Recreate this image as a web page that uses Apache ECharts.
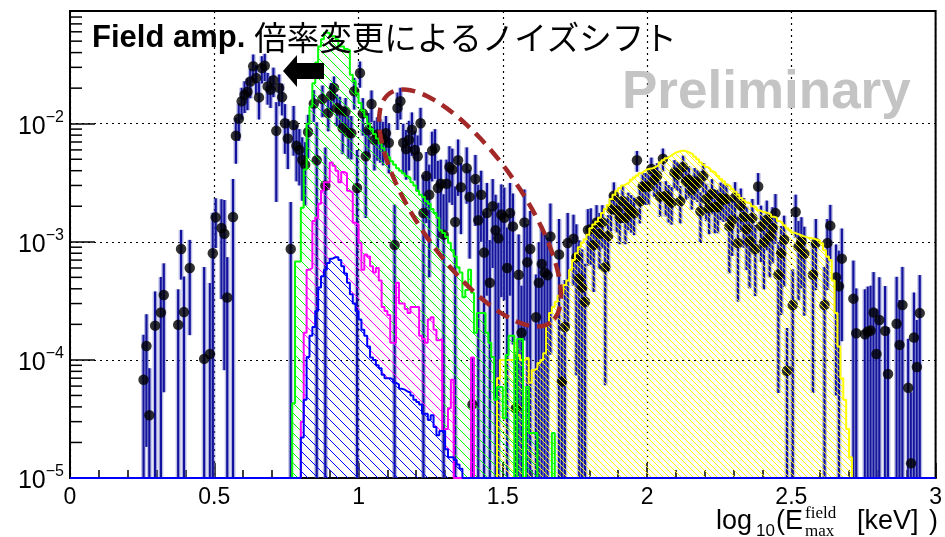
<!DOCTYPE html>
<html><head><meta charset="utf-8">
<script src="https://cdn.jsdelivr.net/npm/echarts@6/dist/echarts.min.js"></script>
<style>html,body{margin:0;padding:0;background:#fff}#c{width:945px;height:537px}</style>
</head><body><div id="c"></div>
<script>
// ---------- axis setup ----------
const X_MIN = 0, X_MAX = 3;
const YMIN = 1e-5, YMAX = 0.09;
const BIN = 0.01;
const xTickLabels = ['0', '0.5', '1', '1.5', '2', '2.5', '3'];

// ---------- histograms (bin width 0.01, first bin low edge given) ----------
const greenStart = 0.77;
const greenVals = [4.3e-5, 6.8e-4, 6.8e-4, 1.94e-3, 4.1e-3, 1.0e-2, 1.4e-2, 2.2e-2, 3.3e-2, 4.5e-2, 5.2e-2, 5.9e-2, 5.9e-2, 5.5e-2, 5.5e-2, 5.2e-2, 4.5e-2, 4.5e-2, 4.3e-2, 4.2e-2, 2.6e-2, 2.3e-2, 1.8e-2,
  1.5e-2, 1.3e-2, 1.15e-2, 1.0e-2, 9.0e-3, 8.2e-3, 7.5e-3, 6.8e-3, 6.2e-3, 5.6e-3,
  5.2e-3, 4.8e-3, 4.5e-3, 4.2e-3, 4.0e-3, 3.8e-3, 3.6e-3,
  3.5e-3, 3.2e-3, 3.0e-3, 2.7e-3, 2.5e-3, 2.4e-3, 2.2e-3, 2.1e-3, 1.9e-3, 1.75e-3, 1.6e-3, 1.25e-3, 1.19e-3, 1.1e-3, 9.8e-4, 8.5e-4,
  7.5e-4, 6.1e-4, 5.5e-4, 3.4e-4, 3.9e-4, 5.8e-4, 3.7e-4, 1.7e-4, 2.5e-4, 2.5e-4, 2.5e-4, 1.7e-4, 1.4e-4, 1.06e-4, 4.6e-5, 5.9e-5, 5.9e-5, 3.2e-5, 1.1e-4, 1.6e-4, 1.6e-4, 0, 1.5e-4, 1.5e-4, 0, 5.9e-5, 2.4e-5, 2.4e-5, 2.4e-5, 0, 0, 0, 0, 0, 2.4e-5];

const magentaStart = 0.80;
const magentaVals = [3e-5, 1.7e-4, 5.8e-4, 6.0e-4, 1.5e-3, 1.6e-3, 2.1e-3, 2.7e-3, 3.2e-3, 3.2e-3,
  4.7e-3, 4.4e-3, 4.0e-3, 3.2e-3, 3.9e-3, 3.8e-3, 2.7e-3, 2.6e-3, 1.45e-3, 1.4e-3,
  9.8e-4, 5.8e-4, 7.8e-4, 7.5e-4, 6.2e-4, 5.5e-4, 6.0e-4, 4.7e-4, 2.8e-4, 2.6e-4,
  2.4e-4, 1.4e-4, 1.4e-4, 4.5e-4, 3.0e-4, 3.0e-4, 2.7e-4, 2.5e-4, 2.8e-4, 2.8e-4,
  2.8e-4, 1.6e-4, 1.5e-4, 1.4e-4, 2.2e-4, 2.3e-4, 1.8e-4, 1.47e-4, 1.5e-4, 2.5e-5,
  2.6e-5, 3.9e-5, 6.8e-5, 0, 0, 0, 0, 0, 0, 1.05e-4];

const blueStart = 0.80;
const blueVals = [2.2e-5, 4.6e-5, 1.06e-4, 1.6e-4, 1.9e-4, 2.6e-4, 4.1e-4, 5.1e-4, 5.8e-4, 6.6e-4,
  7.2e-4, 7.4e-4, 7.4e-4, 7.0e-4, 6.2e-4, 5.4e-4, 4.5e-4, 3.6e-4, 3.0e-4, 2.6e-4,
  2.2e-4, 1.8e-4, 1.6e-4, 1.3e-4, 1.05e-4, 1.0e-4, 9.0e-5, 8.5e-5, 7.5e-5, 7.0e-5,
  7.0e-5, 6.8e-5, 6.4e-5, 6.2e-5, 5.7e-5, 5.6e-5, 5.4e-5, 5.3e-5, 5.0e-5, 4.6e-5,
  4.4e-5, 4.2e-5, 3.5e-5, 3.5e-5, 3.1e-5, 3.4e-5, 2.7e-5, 2.3e-5, 2.5e-5, 2.5e-5,
  1.75e-5, 1.5e-5, 1.5e-5, 1.42e-5, 1.3e-5, 1.2e-5];

const yellowStart = 1.48;
const yellowVals = [7e-5, 1.0e-4, 1.0e-4, 1.0e-4, 1.0e-4,
  1.0e-4, 1.4e-4, 1.1e-4, 1.0e-4, 1.0e-4,
  1.04e-4, 6.4e-5, 8.2e-5, 8.5e-5, 9.4e-5,
  1.0e-4, 1.14e-4, 2.0e-4, 2.5e-4, 2.8e-4,
  3.1e-4, 3.5e-4, 3.7e-4, 4.3e-4, 4.7e-4,
  5.8e-4, 7.0e-4, 8.0e-4, 9.0e-4, 9.8e-4,
  1.05e-3, 1.15e-3, 1.3e-3, 1.4e-3, 1.48e-3,
  1.6e-3, 1.75e-3, 1.9e-3, 2.05e-3, 2.3e-3,
  2.5e-3, 2.7e-3, 2.85e-3, 3.0e-3, 3.1e-3,
  3.2e-3, 3.35e-3, 3.5e-3, 3.65e-3, 3.8e-3,
  3.95e-3, 4.1e-3, 4.15e-3, 4.2e-3, 4.3e-3,
  4.45e-3, 4.7e-3, 4.9e-3, 5.1e-3, 5.3e-3,
  5.5e-3, 5.7e-3, 5.8e-3, 5.9e-3, 5.9e-3,
  5.8e-3, 5.65e-3, 5.5e-3, 5.25e-3, 5.0e-3,
  4.7e-3, 4.5e-3, 4.3e-3, 4.15e-3, 3.95e-3,
  3.8e-3, 3.6e-3, 3.4e-3, 3.25e-3, 3.05e-3,
  2.95e-3, 2.8e-3, 2.65e-3, 2.5e-3, 2.35e-3,
  2.25e-3, 2.15e-3, 2.1e-3, 2.0e-3, 1.95e-3,
  1.85e-3, 1.8e-3, 1.78e-3, 1.75e-3, 1.7e-3,
  1.63e-3, 1.6e-3, 1.5e-3, 1.45e-3, 1.38e-3,
  1.3e-3, 1.25e-3, 1.2e-3, 1.17e-3, 1.15e-3,
  1.12e-3, 1.1e-3, 1.08e-3, 1.07e-3, 1.06e-3,
  1.04e-3, 1.02e-3, 9.7e-4, 8.5e-4, 7.5e-4,
  7.0e-4, 4.7e-4, 2.5e-4, 1.3e-4, 7e-5,
  4.6e-5, 2.6e-5, 1.5e-5];

// ---------- data points ----------
const dataX = [0.255,0.265,0.275,0.295,0.315,0.325,0.375,0.385,0.395,0.415,0.465,0.485,0.495,0.505,0.525,0.535,0.545,0.565,
  0.575,0.585,0.595,0.605,0.615,0.625,0.635,0.645,0.655,0.665,0.675,0.685,0.695,0.705,0.715,0.725,0.735,0.745,0.755,0.765,
  0.775,0.785,0.795,0.805,0.815,0.825,0.845,0.855,0.875,0.885,0.895,0.905,0.915,0.925,0.935,0.945,0.955,0.965,0.975,0.985,0.995,
  1.005,1.015,1.025,1.035,1.045,1.055,1.065,1.075,1.085,1.095,1.105,1.125,1.135,1.145,1.155,1.165,1.175,1.185,1.195,
  1.205,1.215,1.225,1.235,1.245,1.255,1.265,1.275,1.285,1.295,1.305,1.315,1.325,1.335,1.345,1.355,1.375,1.385,1.395,
  1.405,1.415,1.425,1.435,1.445,1.455,1.465,1.475,1.485,1.495,1.505,1.515,1.525,1.535,1.545,1.555,1.565,1.575,1.585,1.595,
  1.615,1.625,1.635,1.645,1.655,1.665,1.695,1.705,1.715,1.725,1.745,1.755,1.765,1.775,1.785,1.795,
  1.805,1.815,1.825,1.835,1.845,1.855,1.865,1.875,1.885,1.895,1.905,1.915,1.925,1.935,1.945,1.955,1.965,1.975,1.985,1.995,
  2.005,2.015,2.025,2.035,2.045,2.055,2.065,2.075,2.085,2.095,2.105,2.115,2.125,2.135,2.145,2.155,2.165,2.175,2.185,2.195,
  2.205,2.215,2.225,2.235,2.245,2.255,2.265,2.275,2.285,2.295,2.305,2.315,2.325,2.335,2.345,2.355,2.365,2.375,2.385,2.395,
  2.405,2.415,2.425,2.435,2.445,2.455,2.465,2.475,2.485,2.505,2.515,2.525,2.535,2.545,2.575,2.585,2.615,2.625,2.635,
  2.655,2.665,2.675,2.715,2.725,2.755,2.765,2.775,2.785,2.795,2.805,2.825,2.835,2.865,2.875,2.885,2.905,2.915,2.925,2.935,2.945];
const dataY = [6.8e-5,1.31e-4,3.4e-5,1.95e-4,2.52e-4,3.55e-4,1.98e-4,8.7e-4,2.54e-4,6.0e-4,1.02e-4,1.12e-4,8.0e-4,1.61e-3,1.31e-3,1.17e-3,3.37e-4,1.62e-3,
  7.9e-3,1.10e-2,1.55e-2,1.76e-2,1.86e-2,2.28e-2,3.06e-2,2.44e-2,1.67e-2,2.96e-2,3.10e-2,2.07e-2,1.94e-2,2.33e-2,8.7e-3,2.01e-2,1.68e-2,1.01e-2,7.5e-3,8.7e-4,
  9.75e-3,6.5e-3,6.0e-3,4.95e-3,4.5e-3,8.5e-3,1.48e-2,4.9e-3,1.62e-2,3.0e-3,1.23e-2,1.73e-2,2.01e-2,1.36e-2,1.30e-2,9.2e-3,1.27e-2,8.4e-3,8.3e-3,1.88e-2,2.85e-3,
  2.69e-2,1.22e-2,5.3e-3,8.8e-3,1.47e-2,7.3e-3,8.1e-3,7.8e-3,7.4e-3,8.3e-3,6.9e-3,9.4e-4,1.36e-2,1.55e-2,6.9e-3,6.1e-3,7.3e-3,8.9e-3,6.0e-3,
  5.3e-3,1.01e-2,1.75e-3,3.6e-3,2.5e-3,5.9e-3,6.2e-3,2.85e-3,3.1e-3,1.15e-3,3.1e-3,4.3e-3,4.1e-3,1.47e-3,4.9e-3,2.9e-3,4.2e-3,2.4e-3,4.2e-5,
  3.4e-3,1.52e-3,2.5e-3,8.1e-4,1.75e-3,4.5e-4,2.0e-3,1.25e-3,1.07e-3,1.7e-3,1.6e-3,6.0e-4,1.75e-3,1.35e-3,3.9e-5,5.25e-4,1.7e-4,1.46e-3,6.7e-4,8.7e-4,
  2.3e-4,4.5e-4,6.5e-4,5.5e-4,5.2e-4,1.11e-3,7.8e-4,6.55e-5,1.9e-4,9.75e-4,1.06e-3,7.4e-4,4.9e-4,4.1e-4,3.1e-4,1.26e-3,
  1.28e-3,9.4e-4,1.46e-3,1.17e-3,1.46e-3,6.1e-4,1.12e-3,1.89e-3,2.45e-3,1.84e-3,1.59e-3,2.22e-3,1.59e-3,1.93e-3,1.84e-3,1.75e-3,4.9e-3,2.2e-3,2.94e-3,2.94e-3,
  2.94e-3,4.13e-3,3.35e-3,3.62e-3,2.42e-3,5.05e-3,2.45e-3,2.24e-3,2.15e-3,3.87e-3,3.7e-3,2.2e-3,4.3e-3,3.24e-3,3.35e-3,2.76e-3,3.24e-3,3.1e-3,1.81e-3,3.62e-3,
  2.3e-3,1.93e-3,2.55e-3,1.97e-3,1.97e-3,2.35e-3,2.27e-3,2.3e-3,1.35e-3,1.52e-3,2.37e-3,9.75e-4,2.02e-3,1.62e-3,1.28e-3,1.01e-3,1.59e-3,8.67e-4,2.94e-3,1.35e-3,
  9.87e-4,1.54e-3,1.11e-3,1.31e-3,1.75e-3,5.25e-4,8.0e-4,1.04e-3,8.1e-5,2.92e-4,1.79e-3,9.1e-4,1.01e-3,7.9e-4,5.25e-4,9.75e-4,2.92e-4,9.75e-4,1.37e-3,
  5.0e-4,4.2e-4,7.2e-4,3.3e-4,1.68e-4,1.65e-4,1.74e-4,1.77e-4,2.52e-4,1.12e-4,2.18e-4,1.76e-4,7.6e-5,2.02e-4,1.34e-4,2.92e-4,5.8e-5,1.33e-5,1.55e-4,8.7e-5,2.49e-4];
// relative (symmetric) error of each point
const dataErrRel = [1.4,0.86,1.5,0.95,1.0,0.85,1.0,0.45,1.0,0.73,5,3,1.2,0.45,0.75,0.93,1.2,1.1,
  0.42,0.35,0.3,0.3,0.3,0.28,0.26,0.28,0.35,0.26,0.26,0.3,0.3,0.28,0.75,0.3,0.3,0.45,0.45,1.5,
  0.45,0.5,0.5,0.55,0.55,0.4,0.3,1.1,0.3,1.1,0.3,0.28,0.25,0.3,0.3,0.4,0.3,0.4,0.4,0.3,1.1,
  0.25,0.35,0.7,0.4,0.3,0.45,0.4,0.4,0.4,0.4,0.45,1.2,0.35,0.3,0.45,0.45,0.45,0.4,0.45,
  0.5,0.35,1.1,0.6,0.8,0.45,0.45,0.7,0.6,1.2,0.6,0.5,0.5,1.0,0.5,0.6,0.5,0.7,1.5,
  0.6,1.0,0.6,1.2,0.8,1.3,0.7,1.0,1.0,0.8,0.8,1.2,0.8,0.9,2,1.2,1.5,0.9,1.1,1.1,
  1.3,1.2,1.1,1.1,1.1,0.9,1.0,1.5,1.5,0.8,0.6,0.9,1.1,1.1,1.1,0.5,
  0.5,0.6,0.4,0.5,0.4,0.9,0.5,0.35,0.3,0.35,0.4,0.35,0.4,0.35,0.35,0.35,0.2,0.35,0.3,0.3,
  0.3,0.25,0.28,0.28,0.33,0.22,0.33,0.35,0.35,0.27,0.27,0.35,0.25,0.3,0.3,0.32,0.3,0.3,0.45,0.28,
  0.35,0.4,0.33,0.4,0.4,0.35,0.35,0.35,0.6,0.5,0.35,0.68,0.4,0.45,0.55,0.6,0.45,0.6,0.3,0.5,
  0.6,0.45,0.55,0.5,0.45,0.9,0.7,0.6,1.3,1.0,0.4,0.65,0.6,0.7,0.9,0.6,1.1,0.6,0.5,
  0.9,1.0,0.8,1.1,1.4,1.4,1.4,1.4,1.2,1.4,1.3,1.4,1.5,1.5,1.4,1.1,1.6,3,1.4,1.5,1.1];

// ---------- helpers ----------
function histPoints(start, vals, fullRange) {
  const pts = [];
  if (fullRange) pts.push([X_MIN, YMIN]);
  pts.push([start, YMIN]);
  vals.forEach((v, i) => {
    const lo = +(start + i * BIN).toFixed(4), hi = +(start + (i + 1) * BIN).toFixed(4);
    const y = v > 0 ? v : YMIN;
    pts.push([lo, y], [hi, y]);
  });
  const end = +(start + vals.length * BIN).toFixed(4);
  pts.push([end, YMIN]);
  if (fullRange) pts.push([X_MAX, YMIN]);
  return pts;
}
function hatch(color, s, lw) {
  const c = document.createElement('canvas');
  c.width = s; c.height = s;
  const g = c.getContext('2d');
  g.strokeStyle = color; g.lineWidth = lw;
  g.beginPath();
  g.moveTo(-1, -1); g.lineTo(s + 1, s + 1);
  g.moveTo(s - 2, -2); g.lineTo(s + 2, 2);
  g.moveTo(-2, s - 2); g.lineTo(2, s + 2);
  g.stroke();
  return { image: c, repeat: 'repeat' };
}
function histSeries(name, pts, color, spacing) {
  return {
    name, type: 'line', data: pts, showSymbol: false, symbol: 'none',
    lineStyle: { color, width: 2 }, areaStyle: { color: hatch(color, spacing, 1), origin: 'start', opacity: 1 },
    animation: false, silent: true, clip: true
  };
}
const yMinor = [];
for (let e = -5; e <= -2; e++) for (let m = 2; m <= 9; m++) {
  const v = m * Math.pow(10, e);
  if (v < YMAX) yMinor.push(v);
}
const pointData = dataX.map((x, i) => [x, dataY[i], dataY[i] * dataErrRel[i]]);

const FONT = '"Liberation Sans", Arial, Helvetica, sans-serif';
const chart = echarts.init(document.getElementById('c'), null, { renderer: 'canvas', width: 945, height: 537 });

// dashed ellipse annotation (pixel space)
const ell = [];
{
  const cx = 470, cy = 208, a = 140, b = 52, th = 55 * Math.PI / 180;
  for (let i = 0; i <= 120; i++) {
    const t = i / 120 * 2 * Math.PI;
    ell.push([cx + a * Math.cos(t) * Math.cos(th) - b * Math.sin(t) * Math.sin(th),
              cy + a * Math.cos(t) * Math.sin(th) + b * Math.sin(t) * Math.cos(th)]);
  }
}

chart.setOption({
  backgroundColor: '#fff',
  animation: false,
  grid: { left: 70, right: 7, top: 11, bottom: 59, show: true, borderColor: '#000', borderWidth: 2, backgroundColor: 'transparent' },
  xAxis: {
    type: 'value', min: X_MIN, max: X_MAX, interval: 0.5,
    axisLine: { show: true, lineStyle: { color: '#000', width: 2 } },
    axisTick: { show: true, inside: true, length: 15, lineStyle: { color: '#000', width: 1.5 } },
    minorTick: { show: true, splitNumber: 5, length: 8, lineStyle: { color: '#000', width: 1.5 } },
    axisLabel: { color: '#000', fontSize: 23, fontFamily: FONT, margin: 8,
      formatter: v => { const i = Math.round(v / 0.5); return xTickLabels[i] || ''; } },
    splitLine: { show: true, lineStyle: { color: '#000', type: [2, 4], width: 1.2 } }
  },
  yAxis: {
    type: 'log', logBase: 10, min: YMIN, max: YMAX,
    axisLine: { show: true, lineStyle: { color: '#000', width: 2 } },
    axisTick: { show: true, inside: true, length: 25, lineStyle: { color: '#000', width: 1.5 } },
    axisLabel: {
      color: '#000', margin: 6, showMaxLabel: false,
      formatter: v => {
        const l = Math.log10(v), e = Math.round(l);
        if (Math.abs(l - e) > 1e-6) return '';
        return '{b|10}{s|\u2212' + (-e) + '}';
      },
      rich: {
        b: { fontSize: 25, fontFamily: FONT, color: '#000', padding: [6, 0, 0, 0] },
        s: { fontSize: 16, fontFamily: FONT, color: '#000', padding: [0, 0, 12, 0] }
      }
    },
    splitLine: { show: true, lineStyle: { color: '#000', type: [2, 4], width: 1.2 } }
  },
  series: [
    histSeries('yellow', histPoints(yellowStart, yellowVals, false), '#ffff00', 6),
    histSeries('green', histPoints(greenStart, greenVals, false), '#00ff00', 10),
    histSeries('magenta', histPoints(magentaStart, magentaVals, false), '#ff00ff', 10),
    histSeries('blue', histPoints(blueStart, blueVals, true), '#0000ff', 10),
    {
      type: 'custom', silent: true, clip: false, animation: false,
      data: yMinor.map(v => [X_MIN, v]),
      renderItem: (params, api) => {
        const p = api.coord([api.value(0), api.value(1)]);
        return { type: 'line', shape: { x1: p[0], y1: p[1], x2: p[0] + 12, y2: p[1] }, style: { stroke: '#000', lineWidth: 1.5 } };
      }
    },
    {
      type: 'custom', silent: true, animation: false,
      data: pointData,
      renderItem: (params, api) => {
        const x = api.value(0), y = api.value(1), e = api.value(2);
        const lo = Math.max(y - e, YMIN), hi = Math.min(y + e, YMAX);
        const p1 = api.coord([x, lo]), p2 = api.coord([x, hi]);
        return { type: 'group', children: [
          { type: 'line', shape: { x1: p1[0], y1: p1[1], x2: p2[0], y2: p2[1] }, style: { stroke: 'rgba(110,115,200,0.45)', lineWidth: 5 } },
          { type: 'line', shape: { x1: p1[0], y1: p1[1], x2: p2[0], y2: p2[1] }, style: { stroke: '#12129c', lineWidth: 2.2 } }
        ] };
      }
    },
    {
      type: 'scatter', data: pointData.map(d => [d[0], d[1]]), symbol: 'circle', symbolSize: 10.5,
      itemStyle: { color: '#000' }, silent: true, animation: false
    }
  ],
  graphic: [
    { type: 'polyline', shape: { points: ell }, z: 50, silent: true,
      style: { stroke: '#a32828', lineWidth: 4.5, fill: null, lineDash: [14, 8] } },
    { type: 'polygon', z: 50, silent: true,
      shape: { points: [[283, 71], [297, 55], [297, 63], [324, 63], [324, 79], [297, 79], [297, 87]] },
      style: { fill: '#000' } },
    { type: 'text', z: 50, silent: true, x: 92, y: 38,
      style: { text: '{a|Field amp.}{b|倍率変更によるノイズシフト}', verticalAlign: 'middle', align: 'left',
        rich: { a: { fontSize: 31, fontWeight: 'bold', fontFamily: FONT, fill: '#000' },
                b: { fontSize: 32.5, fontFamily: '"Noto Sans CJK JP", sans-serif', fill: '#000', padding: [0, 0, 0, 9] } } } },
    { type: 'text', z: 50, silent: true, x: 622, y: 93,
      style: { text: 'Preliminary', fill: '#c4c4c4', font: 'bold 53px ' + FONT, verticalAlign: 'middle', align: 'left' } },
    { type: 'text', z: 50, silent: true, x: 716, y: 522, style: { text: 'log', font: '27px ' + FONT, fill: '#000', verticalAlign: 'middle' } },
    { type: 'text', z: 50, silent: true, x: 756, y: 531, style: { text: '10', font: '17px ' + FONT, fill: '#000', verticalAlign: 'middle' } },
    { type: 'text', z: 50, silent: true, x: 776, y: 522, style: { text: '(E', font: '27px ' + FONT, fill: '#000', verticalAlign: 'middle' } },
    { type: 'text', z: 50, silent: true, x: 805, y: 514, style: { text: 'field', font: '17px "Liberation Serif", serif', fill: '#000', verticalAlign: 'middle' } },
    { type: 'text', z: 50, silent: true, x: 805, y: 532, style: { text: 'max', font: '17px "Liberation Serif", serif', fill: '#000', verticalAlign: 'middle' } },
    { type: 'text', z: 50, silent: true, x: 857, y: 522, style: { text: '[keV]', font: '27px ' + FONT, fill: '#000', verticalAlign: 'middle', align: 'left' } },
    { type: 'text', z: 50, silent: true, x: 938, y: 522, style: { text: ')', font: '27px ' + FONT, fill: '#000', verticalAlign: 'middle', align: 'right' } }
  ]
});
</script></body></html>
